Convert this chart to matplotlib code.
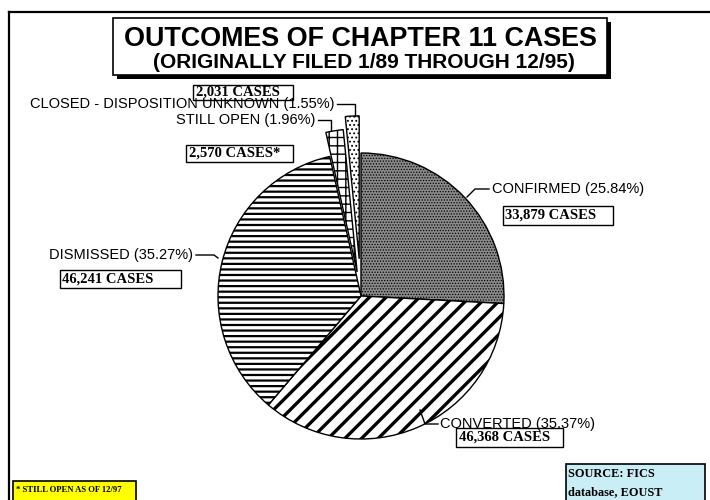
import matplotlib
matplotlib.use("Agg")
import matplotlib.pyplot as plt
from matplotlib.patches import Rectangle
from matplotlib.lines import Line2D

# ---- data ----
categories = ["CONFIRMED", "CONVERTED", "DISMISSED", "STILL OPEN", "CLOSED - DISPOSITION UNKNOWN"]
percents = [25.84, 35.37, 35.27, 1.96, 1.55]
cases = ["33,879 CASES", "46,368 CASES", "46,241 CASES", "2,570 CASES*", "2,031 CASES"]
explode = [0, 0, 0, 0.17, 0.26]
hatches = ["......", "//", "---", "++", "...."]
facecolors = ["#8a8a8a", "white", "white", "white", "white"]
hatch_lw = [0.6, 2.4, 1.6, 1.0, 0.8]

W, H = 710, 500
fig = plt.figure(figsize=(W / 100, H / 100), dpi=100)
fig.patch.set_facecolor("white")

def fx(x):
    return x / W

def fy(y):
    return 1 - y / H

def box(x0, y0, x1, y1, fc="white", lw=1.0, shadow=0, ec="black", z=3):
    if shadow:
        fig.patches.append(Rectangle((fx(x0 + shadow), fy(y1 + shadow)), fx(x1 - x0), (y1 - y0) / H,
                                     transform=fig.transFigure, facecolor="black", edgecolor="black",
                                     lw=0, zorder=z - 0.5))
    fig.patches.append(Rectangle((fx(x0), fy(y1)), fx(x1 - x0), (y1 - y0) / H,
                                 transform=fig.transFigure, facecolor=fc, edgecolor=ec, lw=lw, zorder=z))

def line(xs, ys, lw=1.0):
    fig.add_artist(Line2D([fx(x) for x in xs], [fy(y) for y in ys], transform=fig.transFigure,
                          color="black", lw=lw, zorder=5))

# outer frame
line([9, 9], [12, 500], lw=1.6)
line([9, 710], [12, 12], lw=1.6)

# title box
box(113, 18, 607, 75, shadow=4, lw=1.2)
fig.text(fx(360), fy(39), "OUTCOMES OF CHAPTER 11 CASES", ha="center", va="center",
         family="Liberation Sans", weight="bold", fontsize=19.4, zorder=6)
fig.text(fx(364), fy(63), "(ORIGINALLY FILED 1/89 THROUGH 12/95)", ha="center", va="center",
         family="Liberation Sans", weight="bold", fontsize=15, zorder=6)

# pie
cx, cy, R = 361, 296, 143
ax = fig.add_axes([fx(cx - R), fy(cy + R), 2 * R / W, 2 * R / H])
wedges, _ = ax.pie(percents, explode=explode, startangle=90, counterclock=False, radius=1,
                   colors=facecolors, wedgeprops=dict(edgecolor="black", linewidth=1.0))
ax.set_xlim(-1, 1)
ax.set_ylim(-1, 1)
ax.axis("off")
for w, h, lw in zip(wedges, hatches, hatch_lw):
    w.set_hatch(h)
    w.set_clip_on(False)
    if hasattr(w, "set_hatch_linewidth"):
        w.set_hatch_linewidth(lw)

lab = dict(family="Liberation Sans", fontsize=10.5, va="center", zorder=6)
cas = dict(family="Liberation Serif", weight="bold", fontsize=10.5, va="center", zorder=6)
src = dict(family="Liberation Serif", weight="bold", fontsize=8.8, va="center", zorder=6)

# closed - disposition unknown
fig.text(fx(335), fy(104), f"{categories[4]} ({percents[4]:.2f}%)", ha="right", **lab)
line([337, 355, 355], [104, 104, 116])
box(193, 85, 293, 100)
fig.text(fx(196), fy(92.5), cases[4], ha="left", **cas)

# still open
fig.text(fx(315), fy(120), f"{categories[3]} ({percents[3]:.2f}%)", ha="right", **lab)
line([318, 331, 331], [120, 120, 130])
box(186, 145, 293, 162)
fig.text(fx(189), fy(153.5), cases[3], ha="left", **cas)

# confirmed
fig.text(fx(492), fy(189), f"{categories[0]} ({percents[0]:.2f}%)", ha="left", **lab)
line([467, 475, 489], [197, 189, 189])
box(503, 206, 613, 225)
fig.text(fx(505), fy(215.5), cases[0], ha="left", **cas)

# dismissed
fig.text(fx(193), fy(255), f"{categories[2]} ({percents[2]:.2f}%)", ha="right", **lab)
line([196, 214, 218], [255, 255, 258])
box(60, 270, 181, 288)
fig.text(fx(62), fy(279), cases[2], ha="left", **cas)

# converted
fig.text(fx(440), fy(424), f"{categories[1]} ({percents[1]:.2f}%)", ha="left", **lab)
line([420, 425, 438], [410, 424, 424])
box(456, 428, 563, 447)
fig.text(fx(459), fy(437.5), cases[1], ha="left", **cas)

# footnote
box(13, 481, 136, 503, fc="#ffff00", lw=1.2)
fig.text(fx(16), fy(490), "* STILL OPEN AS OF 12/97", ha="left", family="Liberation Serif",
         weight="bold", fontsize=6.2, va="center", zorder=6)

# source
box(566, 464, 705, 503, fc="#c9eef6", lw=1.2)
fig.text(fx(568), fy(474), "SOURCE: FICS", ha="left", **src)
fig.text(fx(568), fy(492), "database, EOUST", ha="left", **src)

fig.savefig("out.png", dpi=100)
